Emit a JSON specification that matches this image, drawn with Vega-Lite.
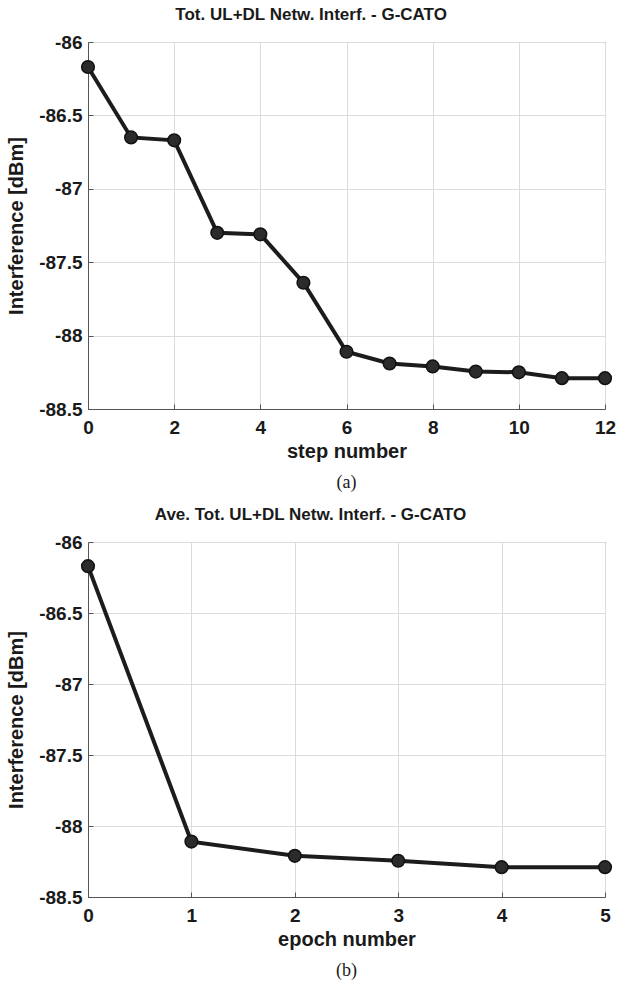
{
  "$schema": "https://vega.github.io/schema/vega-lite/v6.json",
  "background": "white",
  "padding": {"left": 6, "top": 5, "right": 5, "bottom": 2},
  "spacing": 12,
  "config": {
    "font": "Liberation Sans",
    "locale": {"number": {"decimal": ".", "thousands": ",", "grouping": [3], "currency": ["$", ""], "minus": "-"}},
    "view": {"stroke": "#555555", "strokeWidth": 1},
    "axis": {
      "domainColor": "#555555",
      "domainWidth": 1,
      "gridColor": "#dcdcdc",
      "gridWidth": 1,
      "tickColor": "#555555",
      "tickSize": -5,
      "labelFont": "Liberation Sans",
      "labelFontWeight": "bold",
      "labelFontSize": 19,
      "labelColor": "#1a1a1a",
      "labelFlush": false,
      "labelOverlap": false,
      "titleFont": "Liberation Sans",
      "titleFontWeight": "bold",
      "titleFontSize": 20,
      "titleColor": "#1a1a1a"
    },
    "axisX": {"labelPadding": 14, "titlePadding": 4},
    "axisY": {"labelPadding": 11, "titlePadding": 12},
    "title": {"font": "Liberation Sans", "fontWeight": "bold", "fontSize": 17, "color": "#1a1a1a", "anchor": "middle"}
  },
  "vconcat": [
    {
      "title": {"text": "Tot. UL+DL Netw. Interf. - G-CATO", "offset": 9},
      "vconcat": [
        {
          "title": {"text": "(a)", "orient": "bottom", "font": "Liberation Serif", "fontWeight": "normal", "fontSize": 18, "offset": 13, "frame": "group"},
          "width": 517,
          "height": 367,
          "data": {
            "values": [
              {"step": 0, "interference": -86.17},
              {"step": 1, "interference": -86.65},
              {"step": 2, "interference": -86.67},
              {"step": 3, "interference": -87.3},
              {"step": 4, "interference": -87.31},
              {"step": 5, "interference": -87.64},
              {"step": 6, "interference": -88.11},
              {"step": 7, "interference": -88.19},
              {"step": 8, "interference": -88.21},
              {"step": 9, "interference": -88.245},
              {"step": 10, "interference": -88.25},
              {"step": 11, "interference": -88.29},
              {"step": 12, "interference": -88.29}
            ]
          },
          "encoding": {
            "x": {
              "field": "step",
              "type": "quantitative",
              "scale": {"domain": [0, 12], "nice": false, "zero": false},
              "axis": {"title": "step number", "values": [0, 2, 4, 6, 8, 10, 12], "format": "d"}
            },
            "y": {
              "field": "interference",
              "type": "quantitative",
              "scale": {"domain": [-88.5, -86], "nice": false, "zero": false},
              "axis": {"title": "Interference [dBm]", "values": [-88.5, -88, -87.5, -87, -86.5, -86], "format": ".1~f"}
            }
          },
          "layer": [
            {"mark": {"type": "line", "color": "#1c1c1c", "strokeWidth": 4}},
            {"mark": {"type": "point", "filled": true, "size": 160, "fill": "#2b2b2b", "stroke": "#111111", "strokeWidth": 1.5, "opacity": 1}}
          ]
        }
      ]
    },
    {
      "title": {"text": "Ave. Tot. UL+DL Netw. Interf. - G-CATO", "offset": 9},
      "vconcat": [
        {
          "title": {"text": "(b)", "orient": "bottom", "font": "Liberation Serif", "fontWeight": "normal", "fontSize": 18, "offset": 13, "frame": "group"},
          "width": 517,
          "height": 355,
          "data": {
            "values": [
              {"epoch": 0, "interference": -86.17},
              {"epoch": 1, "interference": -88.11},
              {"epoch": 2, "interference": -88.21},
              {"epoch": 3, "interference": -88.245},
              {"epoch": 4, "interference": -88.29},
              {"epoch": 5, "interference": -88.29}
            ]
          },
          "encoding": {
            "x": {
              "field": "epoch",
              "type": "quantitative",
              "scale": {"domain": [0, 5], "nice": false, "zero": false},
              "axis": {"title": "epoch number", "values": [0, 1, 2, 3, 4, 5], "format": "d"}
            },
            "y": {
              "field": "interference",
              "type": "quantitative",
              "scale": {"domain": [-88.5, -86], "nice": false, "zero": false},
              "axis": {"title": "Interference [dBm]", "values": [-88.5, -88, -87.5, -87, -86.5, -86], "format": ".1~f"}
            }
          },
          "layer": [
            {"mark": {"type": "line", "color": "#1c1c1c", "strokeWidth": 4}},
            {"mark": {"type": "point", "filled": true, "size": 160, "fill": "#2b2b2b", "stroke": "#111111", "strokeWidth": 1.5, "opacity": 1}}
          ]
        }
      ]
    }
  ]
}
